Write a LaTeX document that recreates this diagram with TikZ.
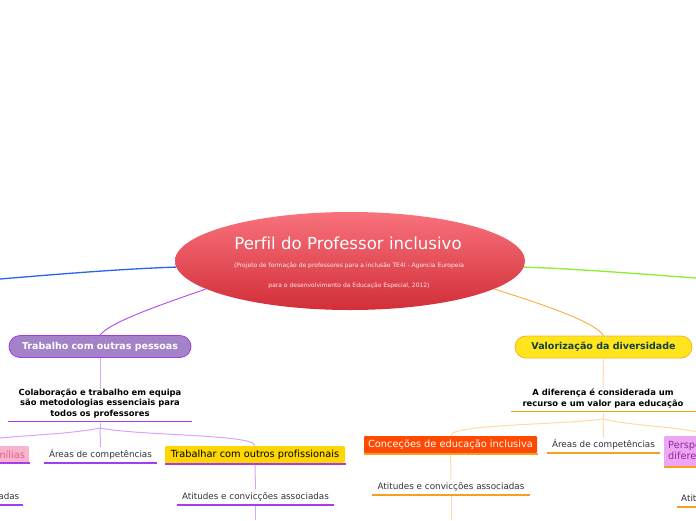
\documentclass[tikz,border=0pt]{standalone}
\usepackage{fontspec}
\setmainfont[Ligatures=NoCommon]{DejaVu Sans}
\usetikzlibrary{shapes.geometric}
\definecolor{rootTop}{HTML}{F8727C}
\definecolor{rootBot}{HTML}{D22E38}
\definecolor{lineBlue}{HTML}{2A62F0}
\definecolor{lineGreen}{HTML}{88F02C}
\definecolor{purpleMain}{HTML}{B048F0}
\definecolor{purpleUL}{HTML}{A63CF0}
\definecolor{purpleLight}{HTML}{D8A4F8}
\definecolor{orangeMain}{HTML}{F8AE3C}
\definecolor{orangeUL}{HTML}{F5A020}
\definecolor{orangeLight}{HTML}{FFD9A8}
\definecolor{trabFill}{HTML}{A482C8}
\definecolor{trabDraw}{HTML}{A43CE8}
\definecolor{valFill}{HTML}{FFE41E}
\definecolor{valDraw}{HTML}{F2B428}
\definecolor{valText}{HTML}{12403A}
\definecolor{goldFill}{HTML}{FFD600}
\definecolor{concFill}{HTML}{FF4800}
\definecolor{pinkFill}{HTML}{F8B4CC}
\definecolor{pinkText}{HTML}{E2608E}
\definecolor{perspFill}{HTML}{EEA6F2}
\definecolor{perspText}{HTML}{8A2AA6}
\definecolor{txtGray}{HTML}{333333}
\begin{document}
\begin{tikzpicture}[x=1pt,y=-1pt,
  rootnode/.style={ellipse, minimum width=350pt, minimum height=98pt, inner sep=0pt,
    top color=rootTop, bottom color=rootBot, draw=none},
  mainbox/.style={rounded corners=11pt, line width=0.8pt, minimum height=22pt, inner sep=0pt,
    font=\bfseries\fontsize{9.5}{11}\selectfont},
  subbox/.style={minimum height=17pt, inner sep=0pt, rounded corners=1pt, font=\fontsize{9.8}{11}\selectfont},
  plain/.style={inner sep=0pt, minimum height=14pt, font=\fontsize{8.8}{10}\selectfont, text=txtGray},
  boldtxt/.style={inner sep=0pt, align=center, font=\bfseries\fontsize{8.4}{10.4}\selectfont},
  ulP/.style={draw=purpleUL, line width=1.6pt},
  ulO/.style={draw=orangeUL, line width=1.6pt},
  conP/.style={draw=purpleLight, line width=1pt},
  conO/.style={draw=orangeLight, line width=1pt}
]
\useasboundingbox (0,0) rectangle (696,520);

% root
\node[rootnode] (root) at (350,261) {};
\node[text=white, inner sep=0pt, font=\fontsize{16.6}{18}\selectfont] (title) at (348,243) {Perfil do Professor inclusivo};
\node[text=white!85!rootTop, inner sep=0pt, font=\fontsize{6}{7}\selectfont] (sub1) at (349,266) {(Projeto de formação de professores para a inclusão TE4I - Agencia Europeia};
\node[text=white!85!rootTop, inner sep=0pt, font=\fontsize{6}{7}\selectfont] (sub2) at (349,286) {para o desenvolvimento da Educação Especial, 2012)};

% main branches off page
\coordinate (farL) at (0,279);
\coordinate (farR) at (696,278);
\draw[lineBlue, line width=1.3pt] (farL) .. controls (60,274) and (120,269) .. (root.182);
\draw[lineGreen, line width=1.3pt] (root.358) .. controls (580,269) and (640,274) .. (farR);

% left main box
\node[mainbox, fill=trabFill, draw=trabDraw, text=white, minimum width=182pt] (trab) at (100,346.5) {Trabalho com outras pessoas};
\draw[purpleMain, line width=0.9pt] (root.191) .. controls (160,305) and (110,322) .. (trab.north);

% right main box
\node[mainbox, fill=valFill, draw=valDraw, text=valText, minimum width=177pt] (val) at (603.5,347) {Valorização da diversidade};
\draw[orangeMain, line width=0.9pt] (root.349) .. controls (545,305) and (595,322) .. (val.north);

% left subtree
\node[boldtxt, minimum width=184pt, anchor=south] (colab) at (100,418) {Colaboração e trabalho em equipa\\são metodologias essenciais para\\todos os professores};
\draw[ulP] (8,421.5) coordinate (colabL) -- (192,421.5) coordinate (colabR);
\draw[conP] (trab.south) -- (colab.north);
\coordinate (bL) at (100,428);
\draw[conP] (100,422.5) -- (bL);

\node[subbox, fill=pinkFill, text=pinkText, anchor=east, minimum width=46pt] (fam) at (29,454.5) {famílias};
\draw[ulP] (fam.south west) -- ([xshift=1pt]fam.south east);
\node[plain, minimum width=113pt] (areasL) at (100.5,454) {Áreas de competências};
\draw[ulP] ([yshift=-1.5pt]areasL.south west) -- ([yshift=-1.5pt]areasL.south east);
\node[subbox, fill=goldFill, text=black, minimum width=180pt] (prof) at (255,454.5) {Trabalhar com outros profissionais};
\draw[ulP] ([yshift=-0.8pt]prof.south west) -- ([xshift=1pt,yshift=-0.8pt]prof.south east);

\draw[conP] (bL) .. controls (70,434) and (30,435) .. (0,438);
\draw[conP] (bL) -- (areasL.north);
\draw[conP] (bL) .. controls (140,436) and (255,434) .. (prof.north);

\node[plain, anchor=east] (attL) at (19.5,496.5) {Atitudes e convicções associadas};
\draw[ulP] (0,505) -- (23,505);

\node[plain, minimum width=157pt] (attP) at (255.5,496.5) {Atitudes e convicções associadas};
\draw[ulP] ([yshift=-1.5pt]attP.south west) coordinate (aPL) -- ([yshift=-1.5pt]attP.south east);
\draw[conP] ([yshift=-1.6pt]prof.south) -- (attP.north);
\coordinate (endP) at (255.5,520);
\draw[conP] ([yshift=-2.2pt]attP.south) -- (endP);

% right subtree
\node[boldtxt, minimum width=184pt, anchor=south] (dif) at (603,408) {A diferença é considerada um\\recurso e um valor para educação};
\draw[ulO] (511,411.5) -- (696,411.5);
\draw[conO] (val.south) -- (dif.north);
\coordinate (bR) at (603,419);
\draw[conO] (603,412.5) -- (bR);

\node[subbox, fill=concFill, text=white, minimum width=173pt] (conc) at (450.5,444.5) {Conceções de educação inclusiva};
\draw[ulO] ([yshift=-0.8pt]conc.south west) -- ([xshift=1pt,yshift=-0.8pt]conc.south east);
\node[plain, minimum width=113pt] (areasR) at (603.5,444) {Áreas de competências};
\draw[ulO] ([yshift=-1.5pt]areasR.south west) -- ([yshift=-1.5pt]areasR.south east);
\node[subbox, fill=perspFill, text=perspText, anchor=north west, minimum height=30pt, minimum width=95pt,
  inner xsep=4pt, align=left, font=\fontsize{9.8}{11}\selectfont] (persp) at (664,436) {Perspetivas sobre a\\diferença};
\draw[ulO] ([yshift=-0.8pt]persp.south west) -- ([yshift=-0.8pt]persp.south east);

\draw[conO] (bR) .. controls (560,425) and (451,424) .. (conc.north);
\draw[conO] (bR) -- (areasR.north);
\draw[conO] (bR) .. controls (630,426) and (680,426) .. (persp.north);

\node[plain, minimum width=158pt] (attC) at (451,486.5) {Atitudes e convicções associadas};
\draw[ulO] ([yshift=-1.5pt]attC.south west) -- ([yshift=-1.5pt]attC.south east);
\draw[conO] ([yshift=-1.6pt]conc.south) -- (attC.north);
\coordinate (endC) at (451,520);
\draw[conO] ([yshift=-2.2pt]attC.south) -- (endC);

\node[plain, anchor=west] (attR) at (681,498.5) {Atitudes e convicções associadas};
\draw[ulO] (677,507) -- (696,507);
\end{tikzpicture}
\end{document}
